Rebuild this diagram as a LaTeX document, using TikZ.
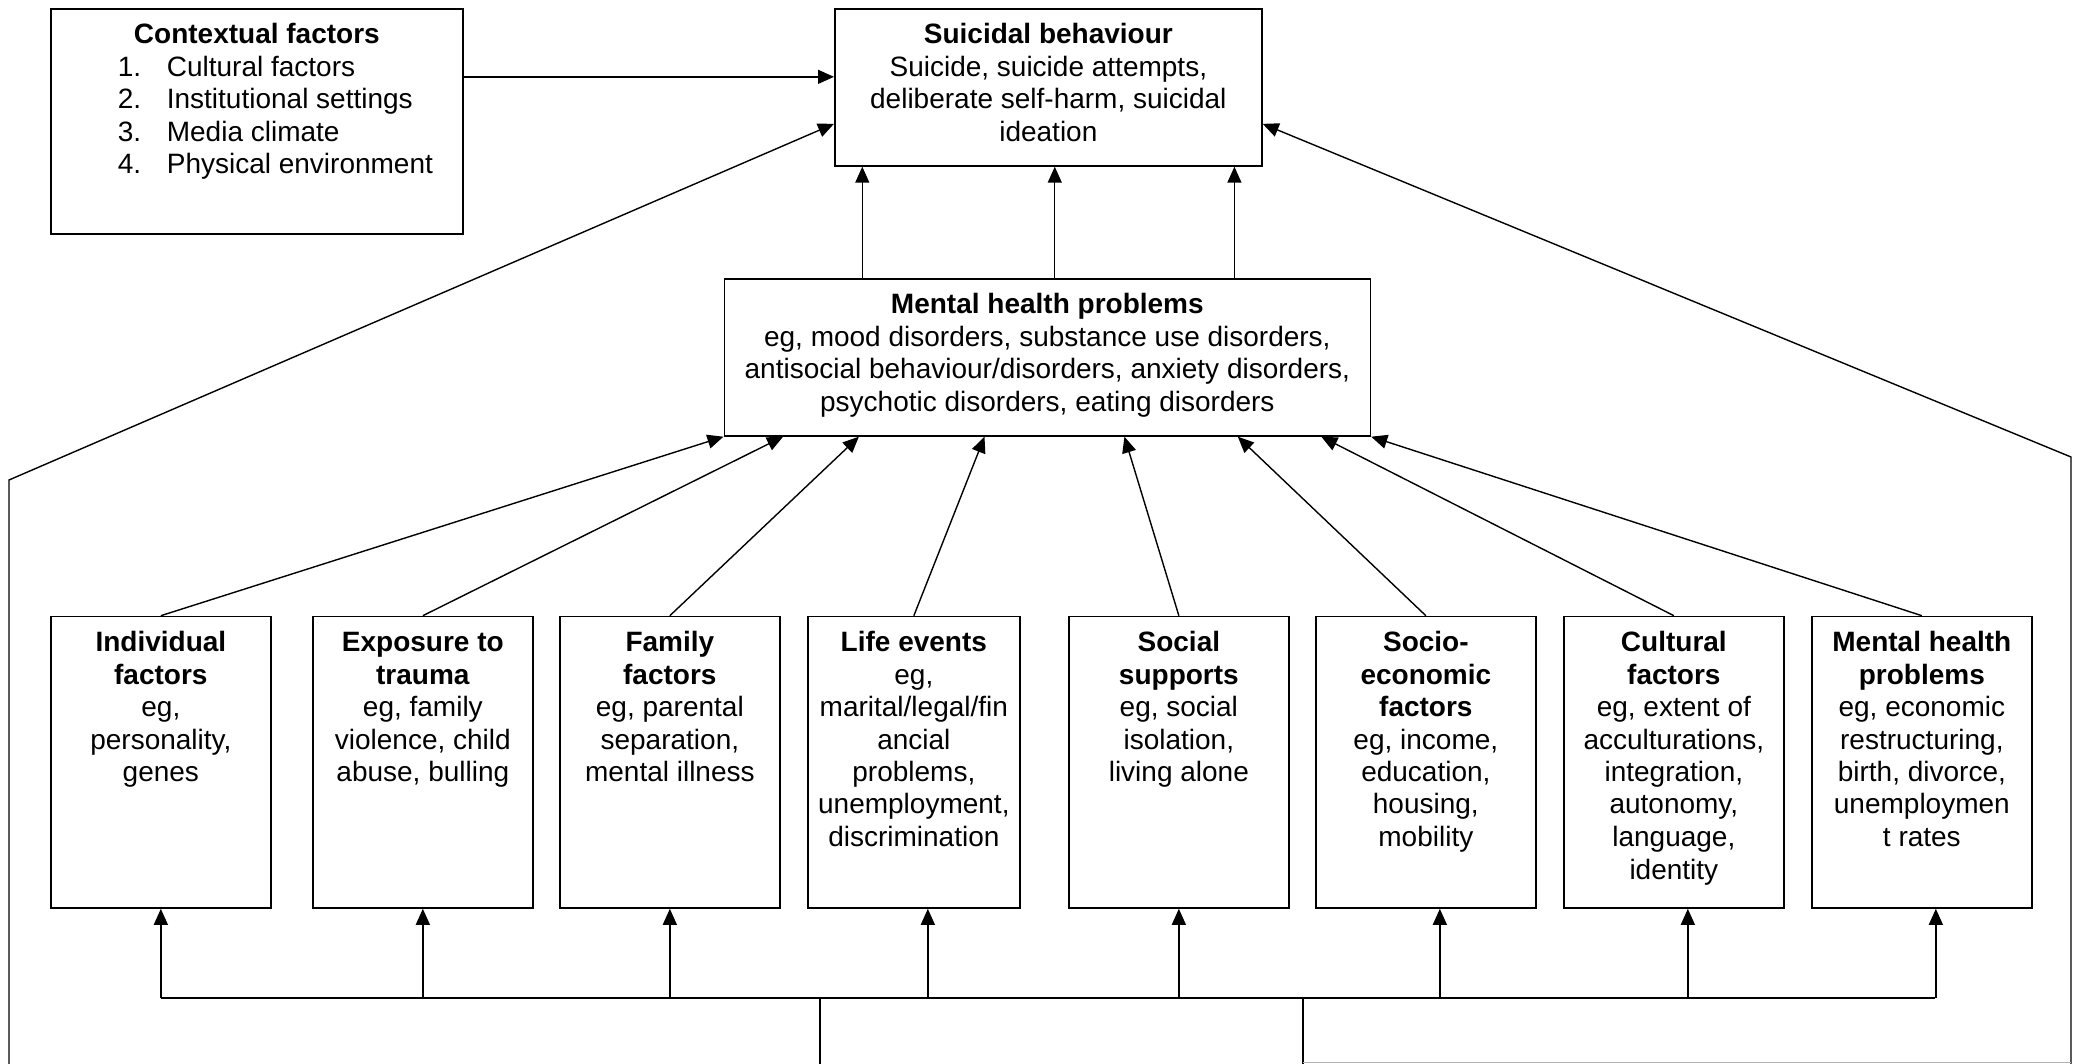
\documentclass[tikz,border=0pt]{standalone}
\usepackage{fontspec}
\setmainfont{Liberation Sans}
\usetikzlibrary{arrows.meta,calc}

\newcommand{\boxtext}[3]{\parbox[t][#2][t]{#1}{\centering\strut#3}}
\newcommand{\ctxitem}[2]{\hspace*{33.5pt}\makebox[24.5pt][l]{#1.}#2}

\tikzset{
  box/.style={draw,line width=0.85pt,inner xsep=0pt,inner ysep=6.1pt,
    anchor=north west,font=\fontsize{14}{16.25}\selectfont},
  link/.style={line width=0.7pt,-{Triangle[length=8pt,width=7pt]}},
  wire/.style={line width=0.7pt}
}

\begin{document}
\begin{tikzpicture}[x=0.5pt,y=-0.5pt,line join=miter]
  \useasboundingbox (0,0) rectangle (2074,1064);

  % top row
  \node[box] (ctx) at (50,8) {\parbox[t][100.3pt][t]{206pt}{\centering\strut
    \textbf{Contextual factors}\par\raggedright
    \ctxitem{1}{Cultural factors}\\
    \ctxitem{2}{Institutional settings}\\
    \ctxitem{3}{Media climate}\\
    \ctxitem{4}{Physical environment}}};
  \node[box] (sb) at (834,8) {\boxtext{213.5pt}{66.3pt}{%
    \textbf{Suicidal behaviour}\\Suicide, suicide attempts,\\
    deliberate self-harm, suicidal\\ideation}};
  \node[box] (mh) at (723.5,278) {\boxtext{323pt}{66.3pt}{%
    \textbf{Mental health problems}\\eg, mood disorders, substance use disorders,\\
    antisocial behaviour/disorders, anxiety disorders,\\
    psychotic disorders, eating disorders}};

  % factor boxes
  \node[box] (indiv) at (50,615.7) {\boxtext{110pt}{133.5pt}{%
    {\bfseries Individual\\factors}\\eg,\\personality,\\genes}};
  \node[box] (trauma) at (312,615.7) {\boxtext{110pt}{133.5pt}{%
    {\bfseries Exposure to\\trauma}\\eg, family\\violence, child\\abuse, bulling}};
  \node[box] (family) at (559,615.7) {\boxtext{110pt}{133.5pt}{%
    {\bfseries Family\\factors}\\eg, parental\\separation,\\mental illness}};
  \node[box] (life) at (807,615.7) {\boxtext{106pt}{133.5pt}{%
    {\bfseries Life events}\\eg,\\marital/legal/fin\\ancial\\problems,\\
    unemployment,\\discrimination}};
  \node[box] (social) at (1068,615.7) {\boxtext{110pt}{133.5pt}{%
    {\bfseries Social\\supports}\\eg, social\\isolation,\\living alone}};
  \node[box] (socio) at (1315,615.7) {\boxtext{110pt}{133.5pt}{%
    {\bfseries Socio-\\economic\\factors}\\eg, income,\\education,\\housing,\\mobility}};
  \node[box] (cult) at (1563,615.7) {\boxtext{110pt}{133.5pt}{%
    {\bfseries Cultural\\factors}\\eg, extent of\\acculturations,\\integration,\\
    autonomy,\\language,\\identity}};
  \node[box] (mhp) at (1811,615.7) {\boxtext{110pt}{133.5pt}{%
    {\bfseries Mental health\\problems}\\eg, economic\\restructuring,\\
    birth, divorce,\\unemploymen\\t rates}};

  % contextual -> suicidal
  \draw[link] ([yshift=5.25pt]sb.west -| ctx.east) -- ([yshift=5.25pt]sb.west);

  % mental health -> suicidal
  \foreach \f in {0.066,0.515,0.934}{
    \coordinate (up) at ($(sb.south west)!\f!(sb.south east)$);
    \draw[link] (up |- mh.north) -- (up);
  }

  % factors -> mental health
  \foreach \n/\f in {indiv/0,trauma/0.092,family/0.209,life/0.403,
                     social/0.619,socio/0.794,cult/0.923,mhp/1}
    \draw[link] (\n.north) -- ($(mh.south west)!\f!(mh.south east)$);

  % outer links
  \coordinate (lbot) at (9,1064);
  \coordinate (lbend) at (9,480);
  \coordinate (rbot) at (2071,1064);
  \coordinate (rbend) at (2071,457);
  \draw[link] (lbot) -- (lbend) -- ([yshift=-18.25pt]sb.west);
  \draw[link] (rbot) -- (rbend) -- ([yshift=-18.25pt]sb.east);

  % bus
  \coordinate (busw) at (160.5,998);
  \coordinate (buse) at (1935,998);
  \draw[wire] (busw) -- (buse);
  \foreach \n/\s in {indiv/0,trauma/0,family/0,life/7,social/0,socio/7,cult/7,mhp/7}
    \draw[link] ([xshift=\s pt]\n.south |- busw) -- ([xshift=\s pt]\n.south);
  \coordinate (feeda) at (820,1064);
  \coordinate (feedb) at (1303,1064);
  \draw[wire] (feeda) -- (feeda |- busw);
  \draw[wire] (feedb) -- (feedb |- busw);
  \draw[black!30,line width=0.6pt] ([yshift=0.6pt]feedb) -- ([yshift=0.6pt]rbot);
\end{tikzpicture}
\end{document}
